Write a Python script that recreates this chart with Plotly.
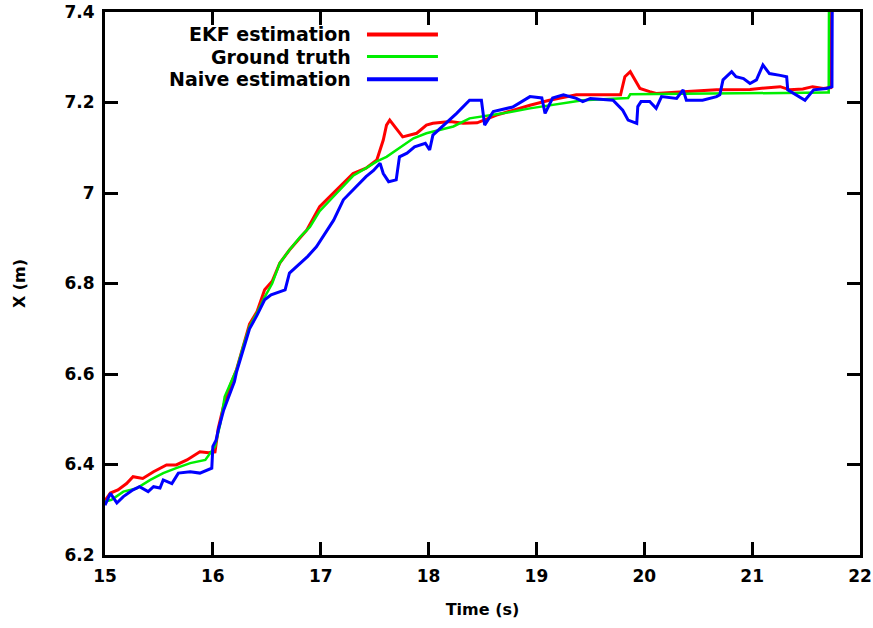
import plotly.graph_objects as go

# ---------------- data ----------------
ekf_t = [15.0, 15.05, 15.12, 15.2, 15.26, 15.35, 15.45, 15.57, 15.66, 15.76, 15.88, 15.96, 16.02,
         16.05, 16.1, 16.17, 16.22, 16.28, 16.34, 16.41, 16.48, 16.55, 16.62, 16.71, 16.81, 16.87,
         16.99, 17.15, 17.3, 17.42, 17.52, 17.58, 17.61, 17.64, 17.69, 17.73, 17.76, 17.89, 17.98,
         18.04, 18.2, 18.32, 18.45, 18.63, 18.94, 19.12, 19.37, 19.78, 19.82, 19.87, 19.91, 19.96,
         20.05, 20.11, 20.36, 20.67, 20.98, 21.26, 21.35, 21.47, 21.56, 21.66, 21.73, 21.745]
ekf_x = [6.32, 6.337, 6.344, 6.358, 6.373, 6.369, 6.384, 6.399, 6.399, 6.41, 6.428, 6.426, 6.428,
         6.48, 6.53, 6.58, 6.61, 6.66, 6.71, 6.738, 6.786, 6.805, 6.845, 6.874, 6.903, 6.918,
         6.97, 7.007, 7.043, 7.055, 7.073, 7.117, 7.15, 7.161, 7.145, 7.132, 7.124, 7.132, 7.15,
         7.154, 7.158, 7.154, 7.155, 7.172, 7.194, 7.205, 7.217, 7.217, 7.257, 7.268, 7.25, 7.231,
         7.224, 7.22, 7.224, 7.228, 7.229, 7.235, 7.228, 7.23, 7.235, 7.231, 7.233, 7.6]

truth_t = [15.0, 15.06, 15.17, 15.29, 15.42, 15.54, 15.66, 15.79, 15.93, 16.02, 16.07, 16.11,
           16.17, 16.22, 16.28, 16.34, 16.41, 16.48, 16.55, 16.62, 16.71, 16.81, 16.9, 16.99,
           17.15, 17.3, 17.42, 17.52, 17.61, 17.73, 17.86, 17.98, 18.23, 18.38, 18.69, 18.94,
           19.22, 19.43, 19.85, 19.87, 21.69, 21.71, 21.715]
truth_x = [6.318, 6.322, 6.34, 6.347, 6.366, 6.381, 6.392, 6.403, 6.41, 6.44, 6.491, 6.55,
           6.583, 6.61, 6.66, 6.705, 6.735, 6.77, 6.80, 6.845, 6.874, 6.903, 6.925, 6.96,
           7.0, 7.038, 7.055, 7.07, 7.08, 7.10, 7.121, 7.132, 7.147, 7.165, 7.176, 7.187,
           7.198, 7.205, 7.21, 7.218, 7.222, 7.222, 7.6]

naive_t = [15.0, 15.05, 15.11, 15.17, 15.26, 15.32, 15.40, 15.45, 15.51, 15.54, 15.62, 15.68,
           15.79, 15.88, 15.99, 16.0, 16.03, 16.05, 16.10, 16.16, 16.20, 16.22, 16.28, 16.34,
           16.41, 16.48, 16.54, 16.60, 16.67, 16.71, 16.81, 16.88, 16.96, 17.05, 17.12, 17.21,
           17.33, 17.42, 17.49, 17.55, 17.58, 17.63, 17.70, 17.73, 17.80, 17.87, 17.97, 18.01,
           18.04, 18.13, 18.26, 18.38, 18.49, 18.52, 18.60, 18.78, 18.94, 19.05, 19.08, 19.15,
           19.25, 19.37, 19.43, 19.5, 19.71, 19.80, 19.85, 19.93, 19.94, 19.97, 20.05, 20.11,
           20.16, 20.30, 20.36, 20.39, 20.54, 20.67, 20.70, 20.73, 20.81, 20.85, 20.92, 20.98,
           21.04, 21.10, 21.16, 21.26, 21.32, 21.33, 21.41, 21.49, 21.57, 21.69, 21.74, 21.745]
naive_x = [6.31, 6.336, 6.315, 6.329, 6.344, 6.351, 6.34, 6.351, 6.348, 6.366, 6.358, 6.381,
           6.384, 6.381, 6.392, 6.44, 6.454, 6.476, 6.52, 6.557, 6.583, 6.605, 6.655, 6.70,
           6.73, 6.764, 6.775, 6.78, 6.786, 6.823, 6.845, 6.86, 6.881, 6.915, 6.94, 6.985,
           7.014, 7.036, 7.05, 7.066, 7.043, 7.025, 7.029, 7.08, 7.088, 7.102, 7.11, 7.095,
           7.128, 7.147, 7.176, 7.205, 7.205, 7.15, 7.18, 7.19, 7.213, 7.21, 7.176, 7.21,
           7.217, 7.209, 7.202, 7.209, 7.205, 7.183, 7.161, 7.154, 7.191, 7.202, 7.202, 7.187,
           7.213, 7.209, 7.228, 7.205, 7.205, 7.213, 7.217, 7.25, 7.268, 7.257, 7.253, 7.242,
           7.25, 7.283, 7.264, 7.26, 7.257, 7.228, 7.217, 7.205, 7.228, 7.231, 7.235, 7.6]

series_names = ["EKF estimation", "Ground truth", "Naive estimation"]
series_colors = ["#ff0000", "#00ee00", "#0000ff"]

x_ticks = [15, 16, 17, 18, 19, 20, 21, 22]
y_ticks = [6.2, 6.4, 6.6, 6.8, 7.0, 7.2, 7.4]
y_tick_labels = ["6.2", "6.4", "6.6", "6.8", "7", "7.2", "7.4"]

# ---------------- figure ----------------
fig = go.Figure()
widths = [3, 2.5, 3]
for t, v, name, col, w in zip([ekf_t, truth_t, naive_t], [ekf_x, truth_x, naive_x],
                              series_names, series_colors, widths):
    fig.add_trace(go.Scatter(x=t, y=v, mode="lines", name=name,
                             line=dict(color=col, width=w), showlegend=False))

tick_font = dict(family="DejaVu Sans", size=17, color="#000000", weight="bold")
title_font = dict(family="DejaVu Sans", size=16, color="#000000", weight="bold")
legend_font = dict(family="DejaVu Sans", size=19, color="#000000", weight="bold")

axis_common = dict(showline=True, linecolor="#000000", linewidth=3, mirror="ticks",
                   ticks="inside", ticklen=13, tickwidth=2.5, tickcolor="#000000",
                   showgrid=False, zeroline=False, tickfont=tick_font, automargin=False,
                   ticklabeloverflow="allow", ticklabelstandoff=4)

fig.update_layout(
    width=873, height=628,
    margin=dict(l=105, r=13, t=12, b=73),
    paper_bgcolor="white", plot_bgcolor="white",
    xaxis=dict(range=[15, 22], tickvals=x_ticks, ticktext=[str(v) for v in x_ticks],
               title=dict(text="Time (s)", font=title_font, standoff=19), **axis_common),
    yaxis=dict(range=[6.2, 7.4], tickvals=y_ticks, ticktext=y_tick_labels,
               title=dict(text="X (m)", font=title_font, standoff=35), **axis_common),
)

# gnuplot-style legend: right-aligned text, line sample to the right
legend_y = [0.9586, 0.918, 0.876]
for name, col, yy, w in zip(series_names, series_colors, legend_y, [4, 3, 4]):
    fig.add_annotation(x=0.3285, y=yy, xref="paper", yref="paper", text=name,
                       showarrow=False, xanchor="right", yanchor="middle", font=legend_font)
    fig.add_shape(type="line", xref="paper", yref="paper", x0=0.347, x1=0.441, y0=yy, y1=yy,
                  line=dict(color=col, width=w))

# remove the page's default body margin so the 873x628 figure fills the window exactly
fig.write_html("out.html", config={"displayModeBar": False},
               post_script="document.body.style.margin='0';document.body.style.overflow='hidden';")
